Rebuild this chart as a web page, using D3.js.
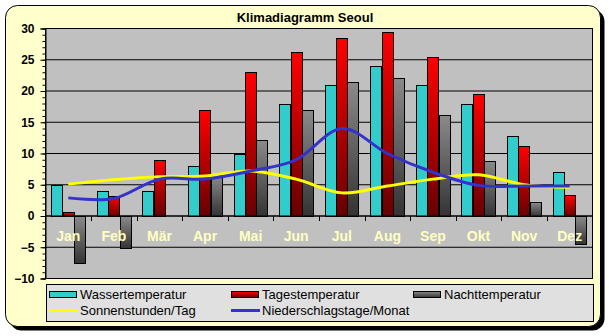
<!DOCTYPE html>
<html>
<head>
<meta charset="utf-8">
<script src="https://cdn.jsdelivr.net/npm/d3@7"></script>
<style>
  body { margin: 0; background: #ffffff; }
  svg { display: block; }
  text { font-family: "Liberation Sans", Arial, sans-serif; }
</style>
</head>
<body>
<div id="chart"></div>
<script>
const months = ["Jan", "Feb", "Mär", "Apr", "Mai", "Jun", "Jul", "Aug", "Sep", "Okt", "Nov", "Dez"];
const wasser = [5, 4, 4, 8, 10, 18, 21, 24, 21, 18, 12.8, 7];
const tag = [0.6, 3.2, 9, 17, 23, 26.3, 28.5, 29.5, 25.5, 19.6, 11.2, 3.4];
const nacht = [-7.6, -5.1, 0, 6.5, 12.1, 17, 21.5, 22, 16.2, 8.8, 2.3, -4.4];
const sonne = [5.1, 5.8, 6.3, 6.4, 7.2, 5.9, 3.7, 4.8, 5.9, 6.6, 5.0, 4.6];
const regen = [2.9, 2.8, 5.9, 5.9, 7.2, 9.0, 14.0, 10, 7.0, 4.9, 4.8, 4.8];
const yTicks = [-10, -5, 0, 5, 10, 15, 20, 25, 30];

const width = 609;
const height = 336;
const plot = { left: 45.5, right: 592.5, top: 28.5, bottom: 278.5 };

const svg = d3.select("#chart")
  .append("svg")
  .attr("width", width)
  .attr("height", height);

const defs = svg.append("defs");
const redGrad = defs.append("linearGradient").attr("id", "redGrad")
  .attr("x1", 0).attr("y1", 0).attr("x2", 0).attr("y2", 1);
redGrad.append("stop").attr("offset", "0%").attr("stop-color", "#ff0000");
redGrad.append("stop").attr("offset", "100%").attr("stop-color", "#660000");
const grayGrad = defs.append("linearGradient").attr("id", "grayGrad")
  .attr("x1", 0).attr("y1", 0).attr("x2", 0).attr("y2", 1);
grayGrad.append("stop").attr("offset", "0%").attr("stop-color", "#8a8a8a");
grayGrad.append("stop").attr("offset", "100%").attr("stop-color", "#333333");

// frame with shadow
svg.append("rect")
  .attr("x", 9.5).attr("y", 9.5)
  .attr("width", 595).attr("height", 321)
  .attr("rx", 12).attr("fill", "#000");
svg.append("rect")
  .attr("x", 5.5).attr("y", 5.5)
  .attr("width", 595).attr("height", 321)
  .attr("rx", 12)
  .attr("fill", "#ffffcc").attr("stroke", "#000");

svg.append("text")
  .attr("x", 305).attr("y", 22)
  .attr("text-anchor", "middle")
  .attr("font-size", 13).attr("font-weight", "bold")
  .text("Klimadiagramm Seoul");

const x = d3.scaleBand()
  .domain(months)
  .range([plot.left, plot.right]);
const y = d3.scaleLinear()
  .domain([-10, 30])
  .range([plot.bottom, plot.top]);

const bw = x.bandwidth() / 4;

svg.append("rect")
  .attr("x", plot.left).attr("y", plot.top)
  .attr("width", plot.right - plot.left).attr("height", plot.bottom - plot.top)
  .attr("fill", "#c0c0c0");

// gridlines
svg.append("g")
  .selectAll("line")
  .data(yTicks)
  .enter()
  .append("line")
  .attr("x1", plot.left).attr("x2", plot.right)
  .attr("y1", d => y(d)).attr("y2", d => y(d))
  .attr("stroke", "#000");

// y axis
const yAxis = svg.append("g")
  .attr("transform", `translate(${plot.left},0)`)
  .call(d3.axisLeft(y).tickValues(yTicks).tickSize(5).tickPadding(6));
yAxis.select(".domain").attr("stroke", "#000");
yAxis.selectAll("text")
  .attr("font-size", 12).attr("font-weight", "bold")
  .attr("fill", "#000")
  .style("font-family", "'Liberation Sans', Arial, sans-serif");
svg.append("g")
  .attr("transform", `translate(${plot.left},0)`)
  .call(d3.axisLeft(y).ticks(40).tickSize(3).tickFormat(""))
  .select(".domain").remove();

// bars
const series = [
  { values: wasser, fill: "#33cccc", off: 0 },
  { values: tag, fill: "url(#redGrad)", off: 1 },
  { values: nacht, fill: "url(#grayGrad)", off: 2 }
];
series.forEach(s => {
  svg.append("g")
    .selectAll("rect")
    .data(s.values)
    .enter()
    .append("rect")
    .attr("x", (d, i) => Math.round(x(months[i]) + bw / 2 + s.off * bw) + 0.5)
    .attr("y", d => Math.round(y(Math.max(d, 0))) + 0.5)
    .attr("width", Math.round(bw))
    .attr("height", d => Math.abs(Math.round(y(d)) - Math.round(y(0))))
    .attr("fill", s.fill)
    .attr("stroke", "#000");
});

// x axis at zero
svg.append("line")
  .attr("x1", plot.left).attr("x2", plot.right)
  .attr("y1", y(0)).attr("y2", y(0))
  .attr("stroke", "#000");
svg.append("g")
  .selectAll("line")
  .data(months.slice(1))
  .enter()
  .append("line")
  .attr("x1", d => Math.round(x(d)) + 0.5).attr("x2", d => Math.round(x(d)) + 0.5)
  .attr("y1", y(0)).attr("y2", y(0) + 5)
  .attr("stroke", "#000");

// lines
const line = d3.line()
  .x((d, i) => x(months[i]) + x.bandwidth() / 2)
  .y(d => y(d))
  .curve(d3.curveCardinal.tension(0));
svg.append("path")
  .attr("d", line(sonne))
  .attr("fill", "none").attr("stroke", "#ffff00").attr("stroke-width", 3);
svg.append("path")
  .attr("d", line(regen))
  .attr("fill", "none").attr("stroke", "#3333cc").attr("stroke-width", 3);

// month labels
svg.append("g")
  .selectAll("text")
  .data(months)
  .enter()
  .append("text")
  .attr("x", d => x(d) + x.bandwidth() / 2)
  .attr("y", 241)
  .attr("text-anchor", "middle")
  .attr("font-size", 14).attr("font-weight", "bold")
  .attr("fill", "#ffffc0")
  .text(d => d);

// plot border
svg.append("rect")
  .attr("x", plot.left).attr("y", plot.top)
  .attr("width", plot.right - plot.left).attr("height", plot.bottom - plot.top)
  .attr("fill", "none").attr("stroke", "#000");

// legend
const legend = svg.append("g");
legend.append("rect")
  .attr("x", 46.5).attr("y", 284.5)
  .attr("width", 547).attr("height", 37)
  .attr("fill", "#e0e0e0").attr("stroke", "#000");
const items = [
  { name: "Wassertemperatur", type: "bar", fill: "#33cccc", x: 49, row: 0 },
  { name: "Tagestemperatur", type: "bar", fill: "url(#redGrad)", x: 231, row: 0 },
  { name: "Nachttemperatur", type: "bar", fill: "url(#grayGrad)", x: 413, row: 0 },
  { name: "Sonnenstunden/Tag", type: "line", fill: "#ffff00", x: 49, row: 1 },
  { name: "Niederschlagstage/Monat", type: "line", fill: "#3333cc", x: 231, row: 1 }
];
items.forEach(it => {
  const cy = it.row === 0 ? 294 : 310.5;
  if (it.type === "bar") {
    legend.append("rect")
      .attr("x", it.x + 0.5).attr("y", cy - 2.5)
      .attr("width", 27).attr("height", 6)
      .attr("fill", it.fill).attr("stroke", "#000");
  } else {
    legend.append("line")
      .attr("x1", it.x).attr("x2", it.x + 29)
      .attr("y1", cy).attr("y2", cy)
      .attr("stroke", it.fill).attr("stroke-width", 3);
  }
  legend.append("text")
    .attr("x", it.x + 31).attr("y", cy + 4.5)
    .attr("font-size", 13)
    .attr("fill", "#000")
    .text(it.name);
});
</script>
</body>
</html>
